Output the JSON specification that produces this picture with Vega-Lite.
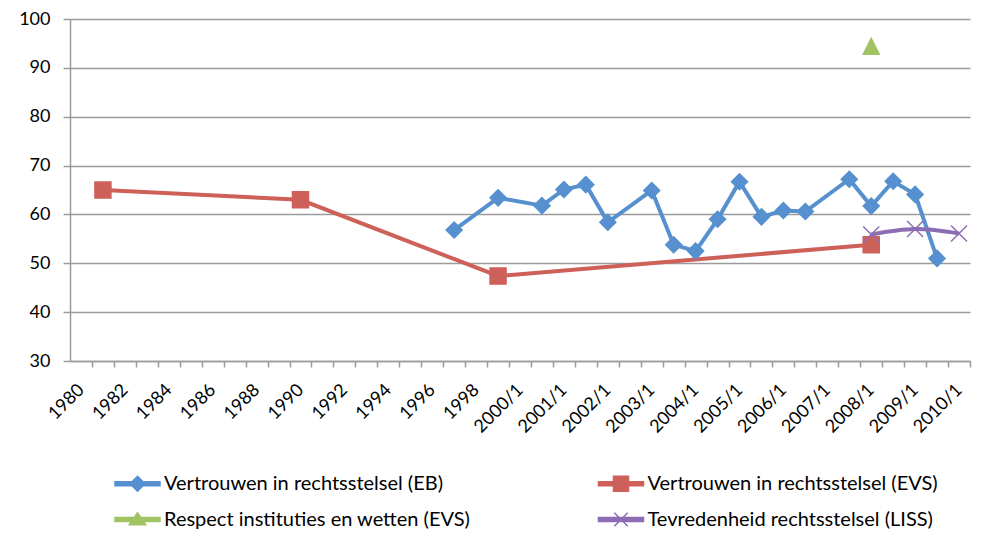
{
  "$schema": "https://vega.github.io/schema/vega-lite/v6.json",
  "width": 900,
  "height": 342,
  "autosize": {"type": "none"},
  "padding": {"left": 70, "top": 19, "right": 28, "bottom": 179},
  "background": "white",
  "config": {
    "font": "Lato",
    "view": {"stroke": null},
    "axis": {"labelFont": "Lato", "labelColor": "#000000", "labelFontSize": 18}
  },
  "data": {"values": [
    {"cat": "1997", "series": "Vertrouwen in rechtsstelsel (EB)", "value": 56.8},
    {"cat": "1999", "series": "Vertrouwen in rechtsstelsel (EB)", "value": 63.4},
    {"cat": "2000/2", "series": "Vertrouwen in rechtsstelsel (EB)", "value": 61.8},
    {"cat": "2001/1", "series": "Vertrouwen in rechtsstelsel (EB)", "value": 65.1},
    {"cat": "2001/2", "series": "Vertrouwen in rechtsstelsel (EB)", "value": 66.1},
    {"cat": "2002/1", "series": "Vertrouwen in rechtsstelsel (EB)", "value": 58.4},
    {"cat": "2003/1", "series": "Vertrouwen in rechtsstelsel (EB)", "value": 64.9},
    {"cat": "2003/2", "series": "Vertrouwen in rechtsstelsel (EB)", "value": 53.8},
    {"cat": "2004/1", "series": "Vertrouwen in rechtsstelsel (EB)", "value": 52.5},
    {"cat": "2004/2", "series": "Vertrouwen in rechtsstelsel (EB)", "value": 59.0},
    {"cat": "2005/1", "series": "Vertrouwen in rechtsstelsel (EB)", "value": 66.7},
    {"cat": "2005/2", "series": "Vertrouwen in rechtsstelsel (EB)", "value": 59.5},
    {"cat": "2006/1", "series": "Vertrouwen in rechtsstelsel (EB)", "value": 60.8},
    {"cat": "2006/2", "series": "Vertrouwen in rechtsstelsel (EB)", "value": 60.6},
    {"cat": "2007/2", "series": "Vertrouwen in rechtsstelsel (EB)", "value": 67.2},
    {"cat": "2008/1", "series": "Vertrouwen in rechtsstelsel (EB)", "value": 61.7},
    {"cat": "2008/2", "series": "Vertrouwen in rechtsstelsel (EB)", "value": 66.8},
    {"cat": "2009/1", "series": "Vertrouwen in rechtsstelsel (EB)", "value": 64.1},
    {"cat": "2009/2", "series": "Vertrouwen in rechtsstelsel (EB)", "value": 51.0},
    {"cat": "1981", "series": "Vertrouwen in rechtsstelsel (EVS)", "value": 65.0},
    {"cat": "1990", "series": "Vertrouwen in rechtsstelsel (EVS)", "value": 63.0},
    {"cat": "1999", "series": "Vertrouwen in rechtsstelsel (EVS)", "value": 47.4},
    {"cat": "2008/1", "series": "Vertrouwen in rechtsstelsel (EVS)", "value": 53.8},
    {"cat": "2008/1", "series": "Respect instituties en wetten (EVS)", "value": 94.4},
    {"cat": "2008/1", "series": "Tevredenheid rechtsstelsel (LISS)", "value": 55.9},
    {"cat": "2009/1", "series": "Tevredenheid rechtsstelsel (LISS)", "value": 57.0},
    {"cat": "2010/1", "series": "Tevredenheid rechtsstelsel (LISS)", "value": 56.1}
  ]},
  "encoding": {
    "x": {
      "field": "cat", "type": "ordinal",
      "scale": {
        "domain": ["1980","1981","1982","1983","1984","1985","1986","1987","1988","1989","1990","1991","1992","1993","1994","1995","1996","1997","1998","1999","2000/1","2000/2","2001/1","2001/2","2002/1","2002/2","2003/1","2003/2","2004/1","2004/2","2005/1","2005/2","2006/1","2006/2","2007/1","2007/2","2008/1","2008/2","2009/1","2009/2","2010/1"]
      },
      "axis": {
        "title": null,
        "labelAngle": -45, "labelAlign": "right", "labelBaseline": "middle",
        "labelPadding": 20, "labelOverlap": false,
        "labelExpr": "(indexof('|1980|1982|1984|1986|1988|1990|1992|1994|1996|1998|', '|' + datum.value + '|') >= 0 || indexof(datum.value, '/1') >= 0) ? datum.label : ''",
        "tickOffset": 10.976, "labelOffset": -10.976,
        "domainColor": "#9b9b9b", "domainWidth": 1.5,
        "tickColor": "#9b9b9b", "tickWidth": 1.5, "tickSize": 6,
        "grid": false
      }
    },
    "y": {
      "field": "value", "type": "quantitative",
      "scale": {"domain": [30, 100], "nice": false, "zero": false},
      "axis": {
        "title": null,
        "values": [30, 40, 50, 60, 70, 80, 90, 100],
        "grid": true, "gridColor": "#9b9b9b", "gridWidth": 1.5,
        "domainColor": "#9b9b9b", "domainWidth": 1.5,
        "tickColor": "#9b9b9b", "tickWidth": 1.5, "tickSize": 7,
        "labelPadding": 13
      }
    }
  },
  "layer": [
    {
      "transform": [{"filter": "datum.series != 'Tevredenheid rechtsstelsel (LISS)'"}],
      "mark": {"type": "line", "strokeWidth": 4},
      "encoding": {
        "color": {"field": "series", "type": "nominal",
          "scale": {"domain": ["Vertrouwen in rechtsstelsel (EB)", "Respect instituties en wetten (EVS)", "Vertrouwen in rechtsstelsel (EVS)", "Tevredenheid rechtsstelsel (LISS)"],
                    "range": ["#5690CF", "#A1C364", "#CE605A", "#8C6DB3"]},
          "legend": {
            "orient": "none", "legendX": 51.5, "legendY": 448.5,
            "title": null, "columns": 2, "columnPadding": 124.5, "rowPadding": 9,
            "padding": 0, "symbolSize": 900, "symbolStrokeWidth": 1.5,
            "labelFont": "Lato", "labelFontSize": 20, "labelColor": "#000000",
            "labelOffset": 10.5, "labelLimit": 500,
            "encode": {"symbols": {"update": {
              "fill": {"scale": "color", "field": "value"},
              "stroke": {"scale": "color", "field": "value"},
              "strokeWidth": {"value": 1.5},
              "shape": {"signal": "datum.value == 'Vertrouwen in rechtsstelsel (EB)' ? 'M-1.5,-0.13L1.5,-0.13L1.5,0.13L-1.5,0.13ZM0,-0.5L0.5,0L0,0.5L-0.5,0Z' : datum.value == 'Vertrouwen in rechtsstelsel (EVS)' ? 'M-1.5,-0.13L1.5,-0.13L1.5,0.13L-1.5,0.13ZM-0.5,-0.5L0.5,-0.5L0.5,0.5L-0.5,0.5Z' : datum.value == 'Respect instituties en wetten (EVS)' ? 'M-1.5,-0.13L1.5,-0.13L1.5,0.13L-1.5,0.13ZM0,-0.45L0.55,0.35L-0.55,0.35Z' : 'M-1.5,-0.13L1.5,-0.13L1.5,0.13L-1.5,0.13ZM-0.45,-0.45L0.45,0.45M-0.45,0.45L0.45,-0.45'"}
            }}}
          }
        }
      }
    },
    {
      "transform": [{"filter": "datum.series == 'Tevredenheid rechtsstelsel (LISS)'"}],
      "mark": {"type": "line", "strokeWidth": 4, "interpolate": "catmull-rom"},
      "encoding": {
        "color": {"field": "series", "type": "nominal"}
      }
    },
    {
      "mark": {"type": "point", "filled": true, "opacity": 1, "strokeWidth": 1.5},
      "encoding": {
        "fill": {"field": "series", "type": "nominal", "legend": null,
          "scale": {"domain": ["Vertrouwen in rechtsstelsel (EB)", "Vertrouwen in rechtsstelsel (EVS)", "Respect instituties en wetten (EVS)", "Tevredenheid rechtsstelsel (LISS)"],
                    "range": ["#5690CF", "#CE605A", "#A1C364", "#8C6DB3"]}},
        "stroke": {"field": "series", "type": "nominal", "legend": null,
          "scale": {"domain": ["Vertrouwen in rechtsstelsel (EB)", "Vertrouwen in rechtsstelsel (EVS)", "Respect instituties en wetten (EVS)", "Tevredenheid rechtsstelsel (LISS)"],
                    "range": ["#5690CF", "#CE605A", "#A1C364", "#8C6DB3"]}},
        "shape": {"field": "series", "type": "nominal", "legend": null,
          "scale": {"domain": ["Vertrouwen in rechtsstelsel (EB)", "Vertrouwen in rechtsstelsel (EVS)", "Respect instituties en wetten (EVS)", "Tevredenheid rechtsstelsel (LISS)"],
                    "range": ["diamond", "square", "M0,-1L1,1L-1,1Z", "M-1,-1L1,1M-1,1L1,-1"]}},
        "size": {"field": "series", "type": "nominal", "legend": null,
          "scale": {"domain": ["Vertrouwen in rechtsstelsel (EB)", "Vertrouwen in rechtsstelsel (EVS)", "Respect instituties en wetten (EVS)", "Tevredenheid rechtsstelsel (LISS)"],
                    "range": [256, 256, 324, 256]}}
      }
    }
  ]
}
